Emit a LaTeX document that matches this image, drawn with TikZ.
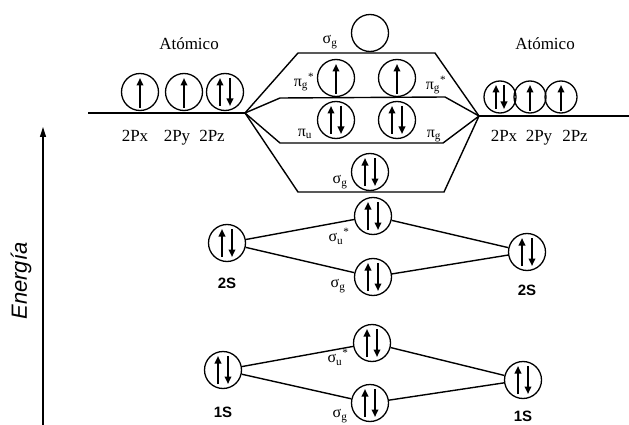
\documentclass[tikz,border=0pt]{standalone}
\usepackage{fontspec}
\setmainfont{Liberation Serif}
\setsansfont{Liberation Sans}
\usetikzlibrary{arrows.meta}
\newcommand\eup[1]{\draw[elec] ([shift={(0,16)}]#1.center) -- ([shift={(0,-14)}]#1.center);}
\newcommand\epair[1]{\draw[elec] ([shift={(-5,14)}]#1.center) -- ([shift={(-5,-14)}]#1.center);
  \draw[elec] ([shift={(5,-14)}]#1.center) -- ([shift={(5,14)}]#1.center);}
\newcommand\eups[1]{\draw[elec] ([shift={(0,14)}]#1.center) -- ([shift={(0,-12)}]#1.center);}
\newcommand\epairs[1]{\draw[elec] ([shift={(-4,12)}]#1.center) -- ([shift={(-4,-12)}]#1.center);
  \draw[elec] ([shift={(4,-12)}]#1.center) -- ([shift={(4,12)}]#1.center);}
\begin{document}
\begin{tikzpicture}[x=1pt,y=-1pt,
  orb/.style={circle,draw,line width=1.3pt,minimum size=37pt,inner sep=0pt},
  orbs/.style={orb,minimum size=32pt},
  elec/.style={line width=2pt,-{Triangle[length=7.5pt,width=6.5pt]}},
  lvl/.style={line width=1.4pt},
  lab/.style={font=\fontsize{17}{18}\selectfont,inner sep=0pt,anchor=base},
  slab/.style={font=\sffamily\bfseries\fontsize{15}{16}\selectfont,inner sep=0pt},
  glab/.style={font=\fontsize{16}{17}\selectfont,inner sep=0pt}]
\useasboundingbox (0,0) rectangle (629,425);
% energy axis
\coordinate (ax0) at (43,425);
\coordinate (ax1) at (43,127);
\draw[line width=1.4pt,-{Triangle[length=10pt,width=6pt]}] (ax0) -- (ax1);
\node[rotate=90,font=\sffamily\itshape\fontsize{22}{24}\selectfont,inner sep=0pt] (en) at (21,281) {Energía};
% left atomic 2p
\coordinate (la) at (88,113);
\coordinate (L) at (245,113);
\draw[lvl] (la) -- (L);
\node[orb] (px) at (140,92) {};
\node[orb] (py) at (184,92) {};
\node[orb] (pz) at (225,92) {};
\eup{px}\eup{py}\epair{pz}
\node[lab] (atl) at (189,50) {Atómico};
\node[lab] (l1) at (135,142) {2Px};
\node[lab] (l2) at (177,142) {2Py};
\node[lab] (l3) at (212,142) {2Pz};
% right atomic 2p
\coordinate (R) at (479,116);
\coordinate (ra) at (629,116);
\draw[lvl] (R) -- (ra);
\node[orbs] (qx) at (500,97) {};
\node[orbs] (qy) at (530,97) {};
\node[orbs] (qz) at (561,97) {};
\epairs{qx}\eups{qy}\eups{qz}
\node[lab] (atr) at (545,50) {Atómico};
\node[lab] (r1) at (504,142) {2Px};
\node[lab] (r2) at (539,142) {2Py};
\node[lab] (r3) at (575,142) {2Pz};
% molecular levels 2p
\coordinate (a1) at (298,53);  \coordinate (a2) at (435,53);
\coordinate (b1) at (280,98);  \coordinate (b2) at (445,97);
\coordinate (c1) at (280,143); \coordinate (c2) at (443,143);
\coordinate (d1) at (298,192); \coordinate (d2) at (444,192);
\draw[lvl,line join=miter] (L) -- (a1) -- (a2) -- (R);
\draw[lvl] (L) -- (b1) -- (b2) -- (R);
\draw[lvl] (L) -- (c1) -- (c2) -- (R);
\draw[lvl] (L) -- (d1) -- (d2) -- (R);
\node[orb] (sgs) at (370,33) {};
\node[orb] (pg1) at (336,78) {};
\node[orb] (pg2) at (397,78) {};
\node[orb] (pu1) at (336,120) {};
\node[orb] (pu2) at (397,120) {};
\node[orb] (sg) at (370,172) {};
\eup{pg1}\eup{pg2}\epair{pu1}\epair{pu2}\epair{sg}
\node[glab] (t1) at (330,42) {σ\textsubscript{g}};
\node[glab] (t2) at (304,82) {π\textsubscript{g}\textsuperscript{*}};
\node[glab] (t3) at (436,85) {π\textsubscript{g}\textsuperscript{*}};
\node[glab] (t4) at (305,134) {π\textsubscript{u}};
\node[glab] (t5) at (434,136) {π\textsubscript{g}};
\node[glab] (t6) at (340,182) {σ\textsubscript{g}};
% 2s
\node[orb] (s2l) at (227,243) {};
\node[orb] (s2u) at (373,216) {};
\node[orb] (s2g) at (373,277) {};
\node[orb] (s2r) at (527,252) {};
\epair{s2l}\epair{s2u}\epair{s2g}\epair{s2r}
\draw[lvl] (s2l) -- (s2u) -- (s2r);
\draw[lvl] (s2l) -- (s2g) -- (s2r);
\node[slab] (n2l) at (227,283) {2S};
\node[slab] (n2r) at (527,290) {2S};
\node[glab] (t7) at (339,236) {σ\textsubscript{u}\textsuperscript{*}};
\node[glab] (t8) at (338,286) {σ\textsubscript{g}};
% 1s
\node[orb] (s1l) at (223,370) {};
\node[orb] (s1u) at (372,343) {};
\node[orb] (s1g) at (370,403) {};
\node[orb] (s1r) at (523,380) {};
\epair{s1l}\epair{s1u}\epair{s1g}\epair{s1r}
\draw[lvl] (s1l) -- (s1u) -- (s1r);
\draw[lvl] (s1l) -- (s1g) -- (s1r);
\node[slab] (n1l) at (223,412) {1S};
\node[slab] (n1r) at (523,416) {1S};
\node[glab] (t9) at (338,357) {σ\textsubscript{u}\textsuperscript{*}};
\node[glab] (t10) at (340,416) {σ\textsubscript{g}};
\end{tikzpicture}
\end{document}
